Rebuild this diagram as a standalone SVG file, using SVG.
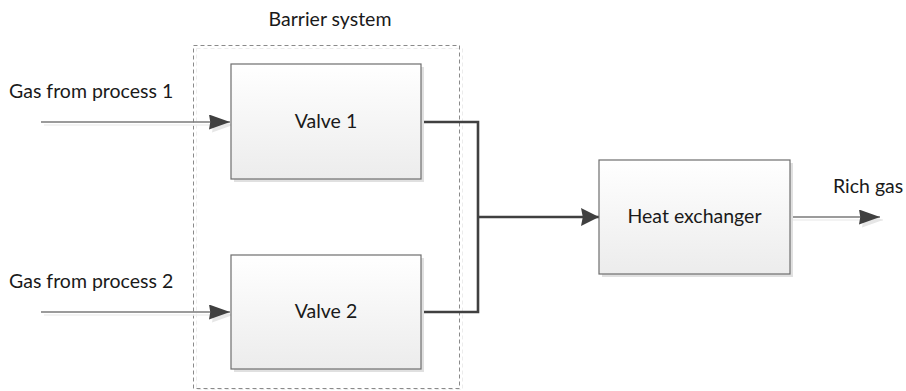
<svg xmlns="http://www.w3.org/2000/svg" width="906" height="391" viewBox="0 0 906 391">
  <style>
    .lbl { font-family: Lato, "Liberation Sans", sans-serif; font-size: 19.5px; fill: #1a1a1a; }
    .box { fill: url(#boxFill); stroke: #6e6e6e; stroke-width: 1.2; }
    .shadow { fill: #e0e0e0; }
    .thin { fill: none; stroke: #7a7a7a; stroke-width: 1.3; }
    .thick { fill: none; stroke: #404040; stroke-width: 2.6; }
    .thinShadow { fill: none; stroke: #efefef; stroke-width: 1.3; }
  </style>
  <defs>
    <linearGradient id="boxFill" x1="0" y1="0" x2="0" y2="1">
      <stop offset="0" stop-color="#ffffff"/>
      <stop offset="1" stop-color="#ececec"/>
    </linearGradient>
    <marker id="arrow" viewBox="0 0 10 10" refX="10" refY="5" markerWidth="21" markerHeight="15" markerUnits="userSpaceOnUse" orient="auto" preserveAspectRatio="none">
      <path d="M0,0 L10,5 L0,10 L0.6,5 Z" fill="#404040"/>
    </marker>
    <marker id="arrowShadow" viewBox="0 0 10 10" refX="10" refY="5" markerWidth="21" markerHeight="15" markerUnits="userSpaceOnUse" orient="auto" preserveAspectRatio="none">
      <path d="M0,0 L10,5 L0,10 L0.6,5 Z" fill="#e6e6e6"/>
    </marker>
    <marker id="arrowBold" viewBox="0 0 10 10" refX="10" refY="5" markerWidth="18" markerHeight="18" markerUnits="userSpaceOnUse" orient="auto" preserveAspectRatio="none">
      <path d="M0,0 L10,5 L0,10 L1,5 Z" fill="#404040"/>
    </marker>
  </defs>

  <!-- Barrier system container -->
  <g id="barrier-system">
    <rect x="196.5" y="48.5" width="266" height="341" fill="none" stroke="#ececec" stroke-width="1" stroke-dasharray="4,3"/>
    <rect x="193.5" y="45.5" width="266" height="343" fill="none" stroke="#8a8a8a" stroke-width="1" stroke-dasharray="4,3"/>
    <text class="lbl" x="330" y="26" text-anchor="middle">Barrier system</text>
  </g>

  <!-- Connectors -->
  <g id="connectors">
    <line class="thinShadow" x1="44" y1="125" x2="233" y2="125" marker-end="url(#arrowShadow)"/>
    <line class="thin" x1="41" y1="122" x2="230" y2="122" marker-end="url(#arrow)"/>
    <line class="thinShadow" x1="44" y1="315" x2="233" y2="315" marker-end="url(#arrowShadow)"/>
    <line class="thin" x1="41" y1="312" x2="230" y2="312" marker-end="url(#arrow)"/>
    <polyline class="thick" points="421,122 478,122 478,312 421,312"/>
    <line class="thick" x1="478" y1="217" x2="599" y2="217" marker-end="url(#arrowBold)"/>
    <line class="thinShadow" x1="793" y1="220" x2="883" y2="220" marker-end="url(#arrowShadow)"/>
    <line class="thin" x1="790" y1="217" x2="880" y2="217" marker-end="url(#arrow)"/>
  </g>

  <g id="valve-1">
    <rect class="shadow" x="234" y="67" width="190" height="115"/>
    <rect class="box" x="231" y="64" width="190" height="115"/>
    <text class="lbl" x="326" y="128" text-anchor="middle">Valve 1</text>
  </g>

  <g id="valve-2">
    <rect class="shadow" x="234" y="258" width="190" height="114"/>
    <rect class="box" x="231" y="255" width="190" height="114"/>
    <text class="lbl" x="326" y="318" text-anchor="middle">Valve 2</text>
  </g>

  <g id="heat-exchanger">
    <rect class="shadow" x="602" y="163" width="191" height="114"/>
    <rect class="box" x="599" y="160" width="191" height="114"/>
    <text class="lbl" x="694.5" y="223" text-anchor="middle">Heat exchanger</text>
  </g>

  <g id="labels">
    <text class="lbl" x="9" y="98">Gas from process 1</text>
    <text class="lbl" x="9" y="288">Gas from process 2</text>
    <text class="lbl" x="833" y="193">Rich gas</text>
  </g>
</svg>
